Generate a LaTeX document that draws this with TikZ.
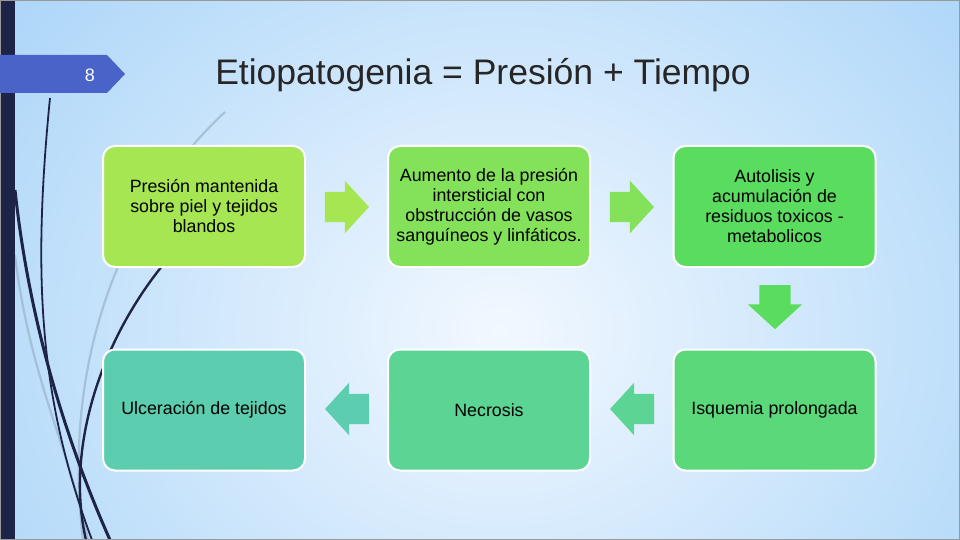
\documentclass[tikz,border=0pt]{standalone}
\usepackage{fontspec}
\setmainfont{Liberation Sans}
\usetikzlibrary{shapes.arrows,calc}
\definecolor{navy}{HTML}{1E2448}
\definecolor{bgin}{HTML}{F2F8FF}
\definecolor{bgout}{HTML}{92C9F6}
\definecolor{tabblue}{HTML}{4A63C8}
\definecolor{lightline}{HTML}{9AB3CA}
\definecolor{cA}{HTML}{A6E652}
\definecolor{cB}{HTML}{84E25A}
\definecolor{cC}{HTML}{5ADC5E}
\definecolor{cD}{HTML}{5AD87A}
\definecolor{cE}{HTML}{5BD494}
\definecolor{cF}{HTML}{5DCDB0}
\definecolor{titlegray}{HTML}{262626}
\begin{document}
\begin{tikzpicture}[x=1pt,y=-1pt,
  box/.style={rectangle, rounded corners=12pt, draw=white, line width=2pt,
    minimum width=202pt, minimum height=121pt, align=center,
    font=\fontsize{17.8}{20}\selectfont, text=black},
  blockarrow/.style={single arrow, draw=none, inner sep=0pt, inner ysep=15pt,
    minimum height=44pt, minimum width=52pt, single arrow head extend=11pt,
    single arrow tip angle=95},
  darkcurve/.style={navy, line width=2.4pt},
  lightcurve/.style={lightline, line width=2.2pt, opacity=0.7}]
\useasboundingbox (0,0) rectangle (960,540);
% background
\begin{scope}
\clip (0,0) rectangle (960,540);
\shade[inner color=bgin, outer color=bgout] (500,330) ellipse [x radius=860pt, y radius=740pt];
\end{scope}
% decorative curves
\draw[lightcurve] (225,112) .. controls (130,200) and (60,350) .. (83,540);
\draw[lightcurve] (15,255) .. controls (30,380) and (70,450) .. (88,540);
\draw[darkcurve, line width=3pt] (15,190) .. controls (30,330) and (70,450) .. (110,540);
\draw[darkcurve, line width=1.8pt] (50,98) .. controls (32,280) and (40,400) .. (92,540);
\draw[darkcurve] (167,260) .. controls (100,340) and (65,450) .. (86,540);
% left bar and border
\fill[navy] (0,0) rectangle (15,540);
\draw[gray!80, line width=1.2pt] (0,0) rectangle (960,540);
% page tab
\fill[tabblue] (0,55) -- (107,55) -- (125,74) -- (107,93) -- (0,93) -- cycle;
\node[text=white, font=\fontsize{18}{20}\selectfont] (pagenum) at (90,75) {8};
% title
\node[text=titlegray, font=\fontsize{35.5}{40}\selectfont] (title) at (483,75) {Etiopatogenia = Presión + Tiempo};
% boxes
\node[box, fill=cA] (b1) at (204,206.5) {Presión mantenida\\sobre piel y tejidos\\blandos};
\node[box, fill=cB] (b2) at (489,206.5) {Aumento de la presión\\intersticial con\\obstrucción de vasos\\sanguíneos y linfáticos.};
\node[box, fill=cC] (b3) at (774.5,206.5) {Autolisis y\\acumulación de\\residuos toxicos -\\metabolicos};
\node[box, fill=cD] (b6) at (774.5,410) {Isquemia prolongada};
\node[box, fill=cE] (b5) at (489,410) {Necrosis};
\node[box, fill=cF] (b4) at (204,410) {Ulceración de tejidos};
% arrows
\node[blockarrow, fill=cA] (a1) at (340,207) {};
\node[blockarrow, fill=cB] (a2) at (625,207) {};
\node[blockarrow, fill=cC, rotate=-90, minimum width=54pt] (a3) at (775,300) {};
\node[blockarrow, fill=cE, rotate=180] (a4) at (639,409) {};
\node[blockarrow, fill=cF, rotate=180] (a5) at (354,409) {};
\end{tikzpicture}
\end{document}
